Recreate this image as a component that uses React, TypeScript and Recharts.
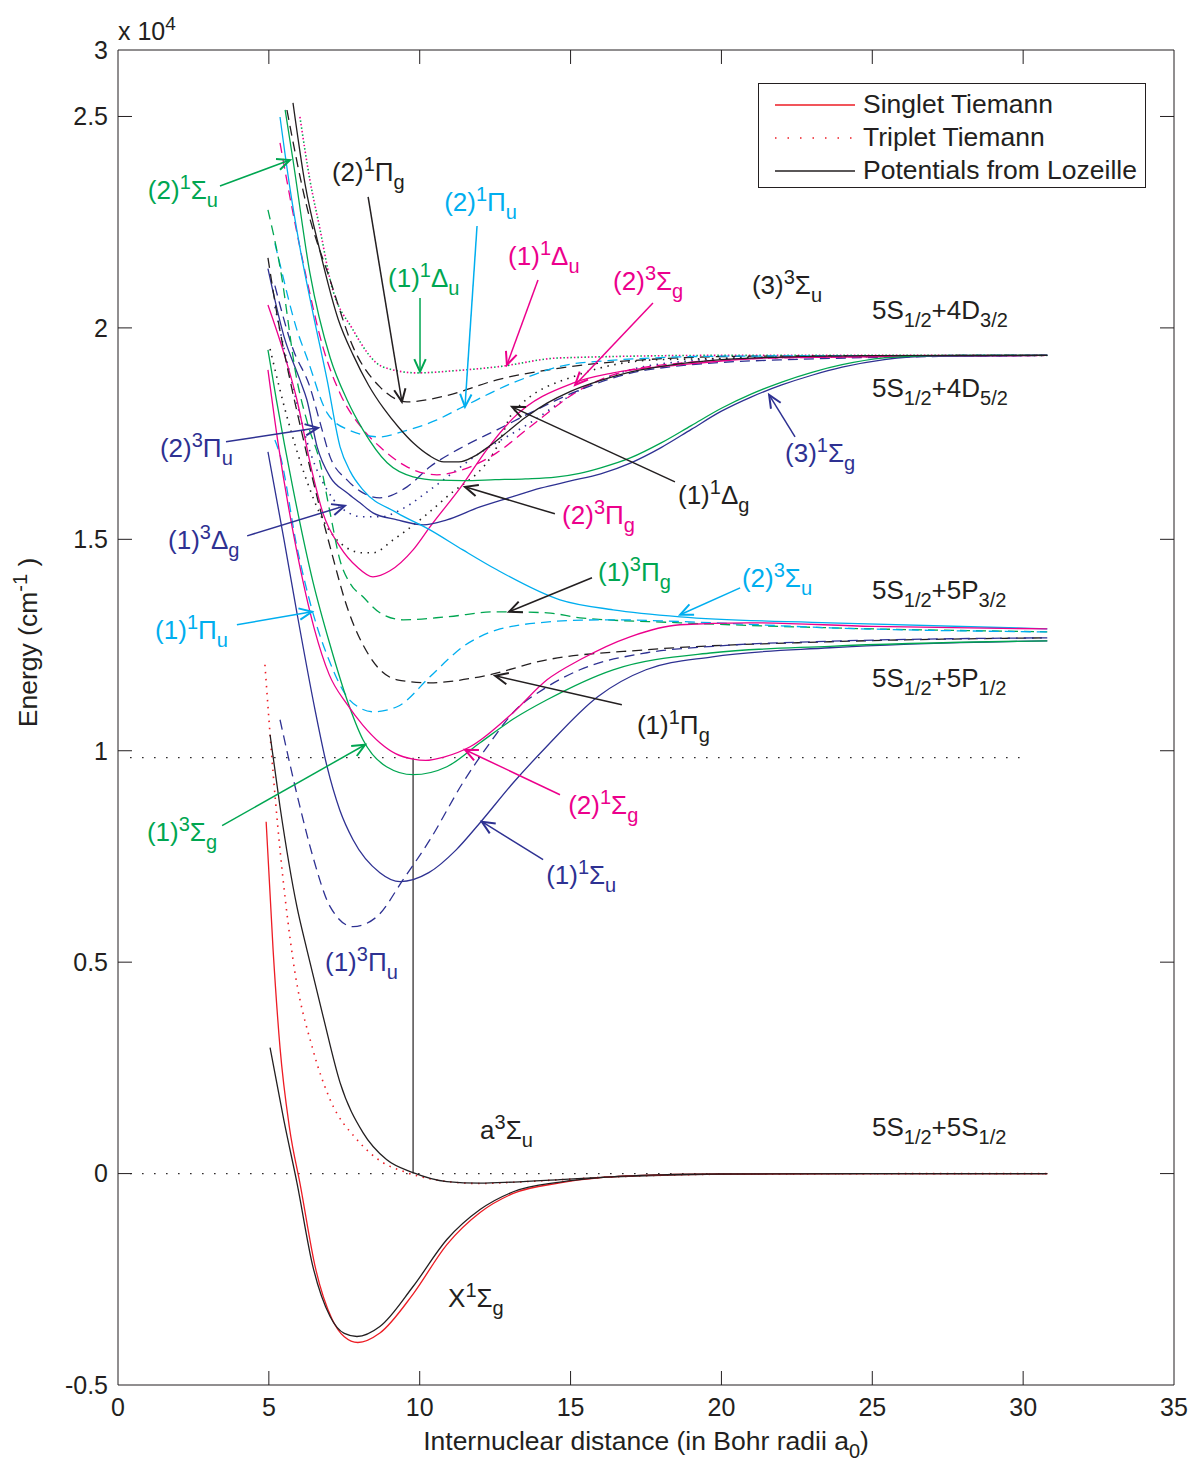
import React from 'react';
import { LineChart, Line, XAxis, YAxis, ReferenceLine, ReferenceDot, Legend } from 'recharts';

const FONT = '"Liberation Sans", Arial, Helvetica, sans-serif';
const BLACK = '#231f20';
const RED = '#ed1c24';
const MAGENTA = '#ec008c';
const GREEN = '#00a651';
const CYAN = '#00aeef';
const NAVY = '#2e3192';

const DASH = '10 6';
const DOT = '1.5 5.5';

const Y_TOP = 26572;
const xTicks = [0, 5, 10, 15, 20, 25, 30, 35];
const yTicks = [-5000, 0, 5000, 10000, 15000, 20000, 25000, Y_TOP];

type Pt = [number, number];

// 5S + 5S
const xSingletLozeille: Pt[] = [[5.04, 2979], [5.5, 1250], [5.93, -213], [6.46, -2199], [7.03, -3380], [7.5, -3780], [7.92, -3853], [8.68, -3617], [9.78, -2671], [10.9, -1560], [12.0, -851], [13.1, -430], [14.65, -200], [16.0, -95], [18.0, -30], [20.0, -10], [25.0, -1], [30.8, 0]];
const xSingletTiemann: Pt[] = [[4.91, 8321], [5.14, 5296], [5.37, 2979], [5.68, 1100], [6.05, -300], [6.55, -2250], [7.1, -3450], [7.5, -3860], [7.95, -3995], [8.68, -3770], [9.78, -2850], [10.9, -1680], [12.0, -920], [13.1, -470], [14.65, -220], [16.0, -98], [18.0, -32], [20.0, -10], [25.0, -1], [30.8, 0]];
const aTripletLozeille: Pt[] = [[5.04, 10378], [5.37, 8676], [5.93, 6312], [6.26, 5296], [6.8, 3712], [7.36, 2151], [8.12, 969], [8.9, 331], [9.78, 24], [10.9, -189], [12.0, -228], [13.1, -200], [14.65, -142], [16.0, -90], [18.0, -40], [20.0, -15], [25.0, -3], [30.8, 0]];
const aTripletTiemann: Pt[] = [[4.87, 12033], [5.14, 9480], [5.8, 5059], [6.46, 2931], [7.03, 1749], [7.92, 804], [8.78, 260], [9.5, 40], [10.3, -120], [11.2, -210], [12.0, -235], [13.1, -205], [14.65, -145], [16.0, -92], [18.0, -41], [20.0, -15], [25.0, -3], [30.8, 0]];

// 5S + 5P
const s1SuPlus: Pt[] = [[4.97, 17070], [5.5, 15000], [5.93, 13262], [6.53, 10969], [6.93, 9622], [7.35, 8600], [7.79, 7896], [8.68, 7116], [9.35, 6903], [10.3, 7116], [11.2, 7650], [12.0, 8298], [13.1, 9243], [14.2, 10094], [15.9, 11277], [17.5, 11915], [19.7, 12222], [23.6, 12435], [30.8, 12600]];
const t1Pu: Pt[] = [[5.37, 10733], [6.03, 8676], [6.46, 7494], [7.03, 6312], [7.79, 5839], [8.58, 6076], [9.45, 6950], [10.34, 7896], [11.43, 9243], [12.33, 10189], [13.09, 10898], [14.2, 11500], [15.31, 11915], [17.53, 12317], [19.72, 12470], [23.6, 12590], [30.8, 12670]];
const t1Sg: Pt[] = [[4.97, 19480], [5.25, 18300], [5.8, 16200], [6.46, 14000], [7.03, 12500], [7.59, 11206], [8.12, 10260], [8.9, 9622], [9.78, 9433], [10.9, 9622], [12.0, 10189], [13.1, 10750], [14.22, 11206], [16.41, 11915], [19.72, 12317], [23.6, 12470], [30.8, 12600]];
const s2Sg: Pt[] = [[4.97, 19007], [5.3, 17300], [5.93, 14700], [6.5, 12900], [7.0, 11800], [7.59, 11100], [8.12, 10600], [8.68, 10189], [9.2, 9930], [9.78, 9800], [10.2, 9770], [10.8, 9850], [11.67, 10094], [13.09, 10900], [14.22, 11678], [15.31, 12151], [16.97, 12695], [18.63, 12979], [20.85, 13026], [25.0, 12940], [30.8, 12880]];
const s1Pg: Pt[] = [[4.97, 21655], [5.3, 20200], [5.7, 18771], [6.1, 17500], [6.46, 16400], [7.03, 14822], [7.59, 13404], [8.35, 12222], [9.25, 11678], [10.34, 11607], [12.0, 11749], [14.22, 12151], [17.53, 12388], [23.6, 12577], [30.8, 12670]];
const s1Pu: Pt[] = [[5.2, 17350], [5.37, 17000], [5.93, 14822], [6.46, 13262], [7.03, 12080], [7.59, 11276], [8.0, 11020], [8.45, 10922], [9.25, 11040], [10.34, 11749], [11.0, 12200], [11.43, 12459], [12.0, 12700], [12.56, 12860], [13.2, 12960], [14.0, 13030], [15.0, 13080], [16.41, 13097], [18.0, 13070], [19.72, 13026], [23.6, 12907], [30.8, 12810]];
const t1Pg: Pt[] = [[4.97, 22790], [5.37, 21442], [5.93, 18771], [6.3, 17700], [6.7, 16809], [7.03, 15626], [7.36, 14500], [7.7, 13950], [8.12, 13640], [8.68, 13262], [9.45, 13097], [10.9, 13168], [12.56, 13286], [14.22, 13262], [15.31, 13144], [18.63, 13026], [23.6, 12907], [30.8, 12813]];
const t2Su: Pt[] = [[5.37, 24988], [5.7, 23300], [6.03, 21900], [6.46, 20355], [6.93, 18771], [7.36, 17187], [7.7, 16600], [8.12, 16170], [9.25, 15626], [10.34, 15224], [11.43, 14750], [12.56, 14279], [14.65, 13569], [16.41, 13333], [18.63, 13168], [23.6, 13026], [30.8, 12884]];

// 5S + 4D
const t2Sg: Pt[] = [[4.97, 20543], [5.5, 19400], [5.93, 18300], [6.4, 16700], [6.79, 15626], [7.36, 14822], [7.92, 14350], [8.45, 14113], [9.0, 14250], [9.78, 14752], [10.34, 15295], [11.43, 16300], [12.2, 17100], [13.09, 17860], [15.1, 18700], [16.41, 18936], [18.63, 19125], [21.94, 19300], [30.8, 19350]];
const t2Pg: Pt[] = [[5.37, 24373], [5.8, 22718], [6.26, 21135], [6.79, 19551], [7.36, 18450], [8.12, 17600], [8.68, 17187], [9.58, 16714], [10.57, 16525], [11.43, 16650], [12.56, 17050], [13.66, 17660], [15.31, 18534], [17.53, 19078], [21.9, 19290], [30.8, 19350]];
const t1Dg: Pt[] = [[5.2, 20500], [5.8, 18600], [6.4, 17000], [6.93, 16170], [7.36, 15768], [8.12, 15532], [8.68, 15532], [9.5, 15750], [10.34, 16170], [12.0, 17045], [13.66, 17754], [15.31, 18534], [18.0, 19150], [22.0, 19320], [30.8, 19350]];
const s1Dg: Pt[] = [[5.04, 19500], [5.6, 17900], [6.2, 16500], [6.8, 15450], [7.36, 14917], [8.12, 14681], [8.45, 14681], [9.12, 14988], [9.45, 15154], [10.9, 16005], [12.56, 17187], [13.09, 18000], [15.3, 18900], [18.0, 19250], [30.8, 19350]];
const s3Sg: Pt[] = [[4.97, 21400], [5.5, 19800], [6.03, 18771], [6.26, 18300], [6.6, 17187], [7.03, 16478], [7.59, 16099], [8.02, 15863], [8.45, 15626], [9.25, 15461], [10.11, 15343], [10.9, 15461], [12.0, 15768], [13.0, 15990], [14.0, 16210], [15.0, 16380], [16.0, 16550], [17.0, 16810], [18.0, 17170], [19.0, 17600], [20.0, 18030], [21.0, 18370], [22.0, 18650], [23.0, 18880], [24.0, 19070], [25.4, 19250], [27.0, 19335], [30.8, 19350]];
const t2Pu: Pt[] = [[5.2, 21000], [5.8, 19500], [6.36, 18605], [6.7, 17754], [7.03, 16950], [7.59, 16406], [8.12, 16099], [8.68, 15981], [9.58, 16241], [10.34, 16714], [11.43, 17187], [12.56, 17589], [13.66, 17990], [15.31, 18534], [17.53, 19007], [21.94, 19244], [30.8, 19350]];
const s2Su: Pt[] = [[5.54, 25154], [5.8, 23971], [6.36, 21300], [7.03, 19300], [7.59, 18300], [8.12, 17589], [8.92, 16809], [9.78, 16478], [10.6, 16400], [11.43, 16390], [12.5, 16410], [13.5, 16430], [14.5, 16470], [15.3, 16560], [16.0, 16690], [17.0, 16930], [18.0, 17280], [19.0, 17690], [20.0, 18100], [21.0, 18440], [22.0, 18720], [23.0, 18950], [24.0, 19130], [25.4, 19290], [27.0, 19345], [30.8, 19350]];
const t3Su: Pt[] = [[5.8, 25320], [6.2, 23400], [6.7, 21800], [7.3, 20200], [7.8, 19350], [8.3, 18650], [8.8, 18100], [9.3, 17650], [9.8, 17270], [10.3, 16990], [10.8, 16830], [11.3, 16830], [11.8, 16960], [12.3, 17200], [12.8, 17480], [13.5, 17880], [14.22, 18220], [15.0, 18500], [16.0, 18760], [17.0, 18960], [18.5, 19140], [20.0, 19250], [22.0, 19310], [25.0, 19345], [30.8, 19350]];
const s2Pg: Pt[] = [[5.6, 25153], [6.26, 22860], [7.03, 21135], [7.79, 19551], [8.68, 18605], [9.58, 18251], [10.9, 18400], [12.56, 18771], [14.65, 19050], [17.5, 19250], [21.0, 19330], [30.8, 19350]];
const s2Pu: Pt[] = [[5.2, 22000], [5.37, 21500], [5.93, 19953], [6.26, 19300], [6.93, 17990], [7.6, 17600], [8.68, 17423], [9.45, 17550], [10.57, 17825], [11.43, 18132], [13.09, 18700], [15.31, 19172], [20.0, 19330], [30.8, 19350]];
const s1Du: Pt[] = [[6.03, 24988], [6.36, 23499], [6.7, 22317], [7.03, 21134], [7.79, 19953], [8.78, 19078], [9.9, 18936], [11.2, 18990], [12.56, 19078], [14.65, 19290], [20.0, 19350], [30.8, 19350]];

// reference levels
const zeroLevel: Pt[] = [[0.4, 0], [30.8, 0]];
const paLevel: Pt[] = [[0.4, 9835], [29.9, 9835]];

type Curve = { id: string; pts: Pt[]; color: string; dash?: string; offset?: number };
const curves: Curve[] = [
  { id: 'zero', pts: zeroLevel, color: BLACK, dash: '1.5 10.5' },
  { id: 'pa', pts: paLevel, color: BLACK, dash: '1.5 10.5' },
  { id: 's1Du_m', pts: s1Du, color: MAGENTA, dash: DOT },
  { id: 's1Du_g', pts: s1Du, color: GREEN, dash: DOT, offset: 3.5 },
  { id: 't1Dg', pts: t1Dg, color: NAVY, dash: DOT },
  { id: 's1Dg', pts: s1Dg, color: BLACK, dash: DOT },
  { id: 't2Pg', pts: t2Pg, color: MAGENTA, dash: DASH },
  { id: 't2Pu', pts: t2Pu, color: NAVY, dash: DASH },
  { id: 's2Pg', pts: s2Pg, color: BLACK, dash: DASH },
  { id: 's2Pu', pts: s2Pu, color: CYAN, dash: DASH },
  { id: 't2Sg', pts: t2Sg, color: MAGENTA },
  { id: 's3Sg', pts: s3Sg, color: NAVY },
  { id: 's2Su', pts: s2Su, color: GREEN },
  { id: 't3Su', pts: t3Su, color: BLACK },
  { id: 't2Su', pts: t2Su, color: CYAN },
  { id: 't1Pg', pts: t1Pg, color: GREEN, dash: DASH },
  { id: 's1Pu', pts: s1Pu, color: CYAN, dash: DASH },
  { id: 's1Pg', pts: s1Pg, color: BLACK, dash: DASH },
  { id: 't1Pu', pts: t1Pu, color: NAVY, dash: DASH },
  { id: 's1SuPlus', pts: s1SuPlus, color: NAVY },
  { id: 't1Sg', pts: t1Sg, color: GREEN },
  { id: 's2Sg', pts: s2Sg, color: MAGENTA },
  { id: 'aTie', pts: aTripletTiemann, color: RED, dash: DOT },
  { id: 'aLoz', pts: aTripletLozeille, color: BLACK },
  { id: 'xTie', pts: xSingletTiemann, color: RED },
  { id: 'xLoz', pts: xSingletLozeille, color: BLACK },
];

type Lab = { x: number; y: number; text: string; color: string };
const labels: Lab[] = [
  { x: 0.99, y: 23049, text: '(2)^1Σ_u', color: GREEN },
  { x: 7.09, y: 23475, text: '(2)^1Π_g', color: BLACK },
  { x: 10.81, y: 22765, text: '(2)^1Π_u', color: CYAN },
  { x: 8.95, y: 20969, text: '(1)^1Δ_u', color: GREEN },
  { x: 12.93, y: 21489, text: '(1)^1Δ_u', color: MAGENTA },
  { x: 16.41, y: 20898, text: '(2)^3Σ_g', color: MAGENTA },
  { x: 21.01, y: 20803, text: '(3)^3Σ_u', color: BLACK },
  { x: 24.99, y: 20212, text: '5S_{1/2}+4D_{3/2}', color: BLACK },
  { x: 24.99, y: 18369, text: '5S_{1/2}+4D_{5/2}', color: BLACK },
  { x: 1.39, y: 16950, text: '(2)^3Π_u', color: NAVY },
  { x: 18.56, y: 15839, text: '(1)^1Δ_g', color: BLACK },
  { x: 22.11, y: 16832, text: '(3)^1Σ_g', color: NAVY },
  { x: 14.72, y: 15366, text: '(2)^3Π_g', color: MAGENTA },
  { x: 1.66, y: 14775, text: '(1)^3Δ_g', color: NAVY },
  { x: 15.91, y: 14019, text: '(1)^3Π_g', color: GREEN },
  { x: 20.68, y: 13877, text: '(2)^3Σ_u', color: CYAN },
  { x: 24.99, y: 13593, text: '5S_{1/2}+5P_{3/2}', color: BLACK },
  { x: 1.23, y: 12647, text: '(1)^1Π_u', color: CYAN },
  { x: 24.99, y: 11513, text: '5S_{1/2}+5P_{1/2}', color: BLACK },
  { x: 17.2, y: 10402, text: '(1)^1Π_g', color: BLACK },
  { x: 0.96, y: 7872, text: '(1)^3Σ_g', color: GREEN },
  { x: 14.92, y: 8510, text: '(2)^1Σ_g', color: MAGENTA },
  { x: 14.19, y: 6856, text: '(1)^1Σ_u', color: NAVY },
  { x: 6.86, y: 4799, text: '(1)^3Π_u', color: NAVY },
  { x: 12.0, y: 827, text: 'a^3Σ_u', color: BLACK },
  { x: 24.99, y: 898, text: '5S_{1/2}+5S_{1/2}', color: BLACK },
  { x: 10.94, y: -3144, text: 'X^1Σ_g', color: BLACK },
];

type Arw = { from: Pt; to: Pt; color: string };
const arrows: Arw[] = [
  { from: [3.38, 23357], to: [5.70, 23971], color: GREEN },
  { from: [8.29, 23097], to: [9.41, 18250], color: BLACK },
  { from: [11.9, 22411], to: [11.5, 18132], color: CYAN },
  { from: [10.01, 20709], to: [10.01, 18960], color: GREEN },
  { from: [13.92, 21134], to: [12.89, 19125], color: MAGENTA },
  { from: [17.73, 20591], to: [15.15, 18652], color: MAGENTA },
  { from: [3.58, 17305], to: [6.63, 17636], color: NAVY },
  { from: [18.46, 16359], to: [13.06, 18132], color: BLACK },
  { from: [22.44, 17423], to: [21.58, 18416], color: NAVY },
  { from: [14.48, 15603], to: [11.5, 16241], color: BLACK },
  { from: [4.28, 15082], to: [7.52, 15792], color: NAVY },
  { from: [15.71, 14090], to: [12.96, 13286], color: BLACK },
  { from: [20.62, 13853], to: [18.63, 13215], color: CYAN },
  { from: [3.94, 12978], to: [6.43, 13286], color: CYAN },
  { from: [16.7, 11087], to: [12.5, 11773], color: BLACK },
  { from: [3.45, 8227], to: [8.19, 10142], color: GREEN },
  { from: [14.65, 8960], to: [11.5, 10024], color: MAGENTA },
  { from: [14.09, 7423], to: [12.06, 8321], color: NAVY },
];

const inTicksX = [5, 10, 15, 20, 25, 30];
const inTicksY = [0, 5000, 10000, 15000, 20000, 25000];
const TICK_DX = 0.464;
const TICK_DY = 331;

type Part = { t: string; mode: 'n' | 'sup' | 'sub' };
function parseRich(s: string): Part[] {
  const out: Part[] = [];
  let buf = '';
  let i = 0;
  while (i < s.length) {
    const c = s[i];
    if (c === '^' || c === '_') {
      if (buf) { out.push({ t: buf, mode: 'n' }); buf = ''; }
      let t = '';
      if (s[i + 1] === '{') {
        const end = s.indexOf('}', i + 2);
        t = s.slice(i + 2, end);
        i = end + 1;
      } else {
        t = s[i + 1];
        i += 2;
      }
      out.push({ t, mode: c === '^' ? 'sup' : 'sub' });
    } else {
      buf += c;
      i++;
    }
  }
  if (buf) out.push({ t: buf, mode: 'n' });
  return out;
}

function RichText({ x, y, text, color, size = 26, small = 20, anchor = 'start', rotate = 0 }: any) {
  const parts = parseRich(text);
  let cur = 0;
  return (
    <text
      x={x}
      y={y}
      fill={color}
      fontSize={size}
      fontFamily={FONT}
      textAnchor={anchor}
      style={{ whiteSpace: 'pre' }}
      transform={rotate ? `rotate(${rotate} ${x} ${y})` : undefined}
    >
      {parts.map((p, i) => {
        const target = p.mode === 'sup' ? -10 : p.mode === 'sub' ? 8 : 0;
        const dy = target - cur;
        cur = target;
        return (
          <tspan key={i} dy={dy} fontSize={p.mode === 'n' ? size : small}>
            {p.t}
          </tspan>
        );
      })}
    </text>
  );
}

function ArrowShape(props: any) {
  const { x1, y1, x2, y2, stroke } = props;
  if ([x1, y1, x2, y2].some((v) => typeof v !== 'number' || isNaN(v))) return <g />;
  const a = Math.atan2(y2 - y1, x2 - x1);
  const L = 14;
  const h = 0.42;
  const p1 = `${x2 - L * Math.cos(a - h)},${y2 - L * Math.sin(a - h)}`;
  const p2 = `${x2 - L * Math.cos(a + h)},${y2 - L * Math.sin(a + h)}`;
  return (
    <g>
      <line x1={x1} y1={y1} x2={x2} y2={y2} stroke={stroke} strokeWidth={1.5} />
      <polyline points={`${p1} ${x2},${y2} ${p2}`} fill="none" stroke={stroke} strokeWidth={2} />
    </g>
  );
}

function LegendBox() {
  const rows = [
    { name: 'Singlet Tiemann', color: RED, dash: undefined },
    { name: 'Triplet Tiemann', color: RED, dash: '1.5 11' },
    { name: 'Potentials from Lozeille', color: BLACK, dash: undefined },
  ];
  return (
    <div
      style={{
        width: 388,
        height: 105,
        boxSizing: 'border-box',
        border: `1.5px solid ${BLACK}`,
        background: '#fff',
        paddingTop: 4,
        fontFamily: FONT,
        fontSize: 26.5,
        color: BLACK,
      }}
    >
      {rows.map((r) => (
        <div key={r.name} style={{ display: 'flex', alignItems: 'center', height: 33 }}>
          <svg width={88} height={10} style={{ marginLeft: 16 }}>
            <line x1={0} y1={5} x2={80} y2={5} stroke={r.color} strokeWidth={1.3} strokeDasharray={r.dash} />
          </svg>
          <span style={{ whiteSpace: 'nowrap', lineHeight: '33px' }}>{r.name}</span>
        </div>
      ))}
    </div>
  );
}

export default function App() {
  return (
    <div style={{ position: 'relative', width: 1203, height: 1463, marginLeft: -8, marginTop: -8, background: '#fff' }}>
      <LineChart width={1203} height={1463} margin={{ top: 50, right: 29, bottom: 28, left: 38 }}>
        <XAxis
          type="number"
          dataKey="x"
          domain={[0, 35]}
          ticks={xTicks}
          allowDataOverflow
          stroke={BLACK}
          tickLine={false}
          tickSize={0}
          tickMargin={13}
          height={50}
          tick={{ fontSize: 25, fill: BLACK, fontFamily: FONT }}
          label={{
            content: (p: any) => {
              const vb = p.viewBox || { x: 118, y: 1385, width: 1056 };
              return (
                <RichText
                  x={vb.x + vb.width / 2}
                  y={vb.y + 65}
                  text="Internuclear distance (in Bohr radii a_0)"
                  color={BLACK}
                  size={26.5}
                  small={20}
                  anchor="middle"
                />
              );
            },
          }}
        />
        <YAxis
          type="number"
          domain={[-5000, Y_TOP]}
          ticks={yTicks}
          allowDataOverflow
          stroke={BLACK}
          tickLine={false}
          tickSize={0}
          tickMargin={10}
          width={80}
          tick={{ fontSize: 25, fill: BLACK, fontFamily: FONT }}
          tickFormatter={(v: number) => (v === Y_TOP ? '3' : String(v / 10000))}
          label={{
            content: (p: any) => {
              const vb = p.viewBox || { x: 38, y: 50, height: 1335 };
              const cx = vb.x - 1;
              const cy = vb.y + vb.height / 2 - 75;
              return (
                <RichText x={cx} y={cy} text="Energy (cm^{-1} )" color={BLACK} size={26.5} small={20} anchor="middle" rotate={-90} />
              );
            },
          }}
        />
        <ReferenceLine y={Y_TOP} stroke={BLACK} strokeWidth={1} />
        <ReferenceLine x={35} stroke={BLACK} strokeWidth={1} />
        {inTicksX.map((x) => (
          <ReferenceLine key={`bt${x}`} segment={[{ x, y: -5000 }, { x, y: -5000 + TICK_DY }]} stroke={BLACK} />
        ))}
        {inTicksX.map((x) => (
          <ReferenceLine key={`tt${x}`} segment={[{ x, y: Y_TOP }, { x, y: Y_TOP - TICK_DY }]} stroke={BLACK} />
        ))}
        {inTicksY.map((y) => (
          <ReferenceLine key={`lt${y}`} segment={[{ x: 0, y }, { x: TICK_DX, y }]} stroke={BLACK} />
        ))}
        {inTicksY.map((y) => (
          <ReferenceLine key={`rt${y}`} segment={[{ x: 35, y }, { x: 35 - TICK_DX, y }]} stroke={BLACK} />
        ))}
        <ReferenceLine segment={[{ x: 9.78, y: 0 }, { x: 9.78, y: 9835 }]} stroke={BLACK} strokeWidth={1.2} />
        {curves.map((c) => (
          <Line
            key={c.id}
            data={c.pts.map(([x, y]) => ({ x, y }))}
            dataKey="y"
            type="monotone"
            stroke={c.color}
            strokeWidth={c.dash === DOT ? 1.6 : 1.3}
            strokeDasharray={c.dash}
            strokeDashoffset={c.offset}
            dot={false}
            activeDot={false}
            legendType="none"
            isAnimationActive={false}
          />
        ))}
        {arrows.map((a, i) => (
          <ReferenceLine
            key={`ar${i}`}
            segment={[{ x: a.from[0], y: a.from[1] }, { x: a.to[0], y: a.to[1] }]}
            stroke={a.color}
            shape={(p: any) => <ArrowShape {...p} />}
          />
        ))}
        {labels.map((l, i) => (
          <ReferenceDot
            key={`lb${i}`}
            x={l.x}
            y={l.y}
            r={0}
            shape={(p: any) => <RichText x={p.cx} y={p.cy} text={l.text} color={l.color} />}
          />
        ))}
        <ReferenceDot
          x={0}
          y={Y_TOP}
          r={0}
          ifOverflow="visible"
          shape={(p: any) => <RichText x={p.cx} y={p.cy - 10} text="x 10^4" color={BLACK} size={25} small={19} />}
        />
        <Legend
          layout="vertical"
          align="center"
          verticalAlign="middle"
          wrapperStyle={{ left: 758, top: 83, width: 388, height: 105 }}
          content={() => <LegendBox />}
        />
      </LineChart>
    </div>
  );
}
